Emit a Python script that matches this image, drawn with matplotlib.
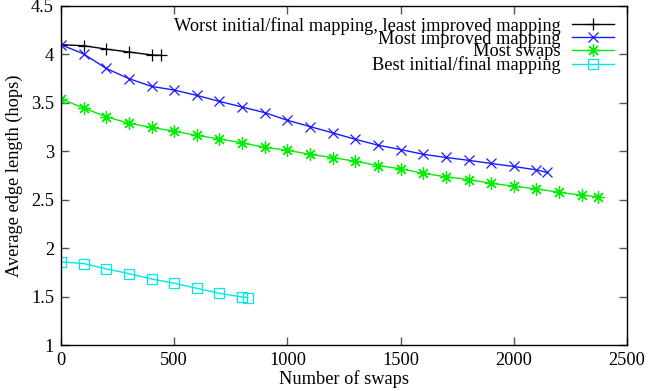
import matplotlib
matplotlib.use("Agg")
import matplotlib.pyplot as plt

plt.rcParams['font.family'] = ['Liberation Serif', 'DejaVu Serif']
plt.rcParams['font.size'] = 13

# worst initial/final mapping, least improved mapping
worst_x = [0, 100, 200, 300, 400, 440]
worst_y = [4.10, 4.09, 4.055, 4.025, 3.995, 3.99]

# most improved mapping
most_imp_x = [0, 100, 200, 300, 400, 500, 600, 700, 800, 900, 1000, 1100, 1200,
              1300, 1400, 1500, 1600, 1700, 1800, 1900, 2000, 2100, 2145]
most_imp_y = [4.10, 4.005, 3.855, 3.75, 3.67, 3.632, 3.577, 3.515, 3.457, 3.399,
              3.32, 3.255, 3.19, 3.124, 3.063, 3.018, 2.969, 2.936, 2.907, 2.874,
              2.843, 2.808, 2.783]

# most swaps
most_swaps_x = [0, 100, 200, 300, 400, 500, 600, 700, 800, 900, 1000, 1100, 1200,
                1300, 1400, 1500, 1600, 1700, 1800, 1900, 2000, 2100, 2200, 2300, 2370]
most_swaps_y = [3.54, 3.448, 3.356, 3.29, 3.246, 3.208, 3.163, 3.128, 3.087, 3.041,
                3.01, 2.969, 2.935, 2.897, 2.853, 2.819, 2.773, 2.736, 2.708, 2.67,
                2.639, 2.612, 2.577, 2.546, 2.533]

# best initial/final mapping
best_x = [0, 100, 200, 300, 400, 500, 600, 700, 800, 825]
best_y = [1.858, 1.841, 1.786, 1.737, 1.682, 1.638, 1.586, 1.534, 1.496, 1.489]

xticks = [0, 500, 1000, 1500, 2000, 2500]
yticks = [1, 1.5, 2, 2.5, 3, 3.5, 4, 4.5]

fig = plt.figure(figsize=(6.5, 3.91), dpi=100)
ax = fig.add_axes([0.0938, 0.1176, 0.8708, 0.8671])

ax.plot(worst_x, worst_y, color='black', marker='+', ms=8, mew=0.9, lw=1,
        label='Worst initial/final mapping, least improved mapping')
ax.plot(most_imp_x, most_imp_y, color='#1a1aff', marker='x', ms=7, mew=0.9, lw=1,
        label='Most improved mapping')
ax.plot(most_swaps_x, most_swaps_y, color='#00ee00', marker=(8, 2, 0), ms=9, mew=0.9, lw=1,
        label='Most swaps')
ax.plot(best_x, best_y, color='#00e8e8', marker='s', ms=7, mfc='none', mew=0.9, lw=1,
        label='Best initial/final mapping')

ax.set_xlim(0, 2500)
ax.set_ylim(1, 4.5)
ax.set_xticks(xticks)
ax.set_yticks(yticks)
ax.set_yticklabels(['1', '1.5', '2', '2.5', '3', '3.5', '4', '4.5'])
ax.tick_params(direction='in', length=6, width=1, top=True, right=True,
               color='#555555', labelsize=13.2, pad=5)
for s in ax.spines.values():
    s.set_linewidth(1)

ax.set_xlabel('Number of swaps', fontsize=13.2, labelpad=1)
ax.set_ylabel('Average edge length (hops)', fontsize=13.2, labelpad=6)

leg = ax.legend(loc='upper right', bbox_to_anchor=(0.993, 0.995), frameon=False,
                markerfirst=False, alignment='right', handlelength=2.3,
                handletextpad=0.6, labelspacing=-0.23, borderpad=0, fontsize=13.2)

fig.savefig('out.png', dpi=100)
